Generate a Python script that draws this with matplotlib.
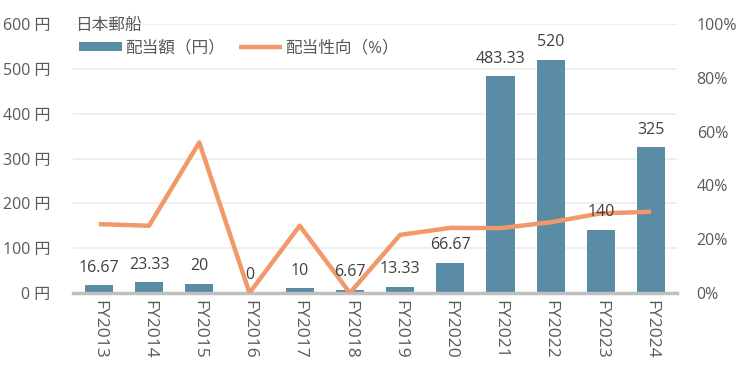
import matplotlib
matplotlib.use("Agg")
import matplotlib.pyplot as plt
from matplotlib.ticker import FuncFormatter

plt.rcParams['font.family'] = ['Open Sans', 'Noto Sans CJK JP', 'DejaVu Sans']

years = ["FY2013", "FY2014", "FY2015", "FY2016", "FY2017", "FY2018",
         "FY2019", "FY2020", "FY2021", "FY2022", "FY2023", "FY2024"]
dividends = [16.67, 23.33, 20, 0, 10, 6.67, 13.33, 66.67, 483.33, 520, 140, 325]
dividend_labels = ["16.67", "23.33", "20", "0", "10", "6.67", "13.33", "66.67",
                   "483.33", "520", "140", "325"]
payout = [25.6, 25.0, 56.0, 0, 25.0, 0, 21.6, 24.2, 24.1, 26.3, 29.6, 30.2]

bar_color = "#5a8ca6"
line_color = "#f0996a"
text_color = "#595959"
fs = 11.5

fig = plt.figure(figsize=(7.5, 3.77), dpi=100)
ax = fig.add_axes([0.097, 0.223, 0.806, 0.713])
x = list(range(len(years)))
bars = ax.bar(x, dividends, width=0.56, color=bar_color, zorder=2, label="配当額（円）")
ax.set_ylim(0, 600)
ax.set_xlim(-0.52, len(years) - 0.48)
ax.set_yticks(range(0, 601, 100))
ax.yaxis.set_major_formatter(FuncFormatter(lambda v, p: f"{int(v)} 円"))
ax.grid(axis='y', color="#ececec", linewidth=1.2, zorder=0)
for s in ["top", "right", "left"]:
    ax.spines[s].set_visible(False)
ax.spines["bottom"].set_color("#bfbfbf")
ax.spines["bottom"].set_linewidth(2.5)
ax.spines["bottom"].set_zorder(5)
ax.tick_params(axis='both', length=0, labelsize=fs, colors=text_color)
ax.tick_params(axis='y', pad=16)
ax.tick_params(axis='x', pad=5)
ax.set_xticks(x)
ax.set_xticklabels(years, rotation=270, fontsize=12.5, color=text_color)

ax2 = ax.twinx()
ax2.plot(x, payout, color=line_color, linewidth=3.2, solid_capstyle='butt',
         zorder=3, label="配当性向（%）")
ax2.set_ylim(0, 100)
ax2.set_yticks(range(0, 101, 20))
ax2.yaxis.set_major_formatter(FuncFormatter(lambda v, p: f"{int(v)}%"))
for s in ["top", "right", "left", "bottom"]:
    ax2.spines[s].set_visible(False)
ax2.tick_params(axis='y', length=0, labelsize=fs, colors=text_color, pad=14)

for xi, v, lab in zip(x, dividends, dividend_labels):
    ax2.annotate(lab, (xi, v), xycoords=ax.transData, xytext=(0, 7),
                 textcoords="offset points", ha="center", va="bottom",
                 fontsize=fs, color="#404040", zorder=6, annotation_clip=False)

fig.text(0.1, 0.932, "日本郵船", fontsize=12, color=text_color, va="center")
h1, l1 = ax.get_legend_handles_labels()
h2, l2 = ax2.get_legend_handles_labels()
leg = fig.legend(h1 + h2, l1 + l2, loc="center left", bbox_to_anchor=(0.085, 0.872),
                 frameon=False, ncol=2, fontsize=12, handlelength=2.6,
                 handleheight=0.5, columnspacing=0.8, handletextpad=0.2)
for t in leg.get_texts():
    t.set_color(text_color)

fig.savefig("out.png", dpi=100)
